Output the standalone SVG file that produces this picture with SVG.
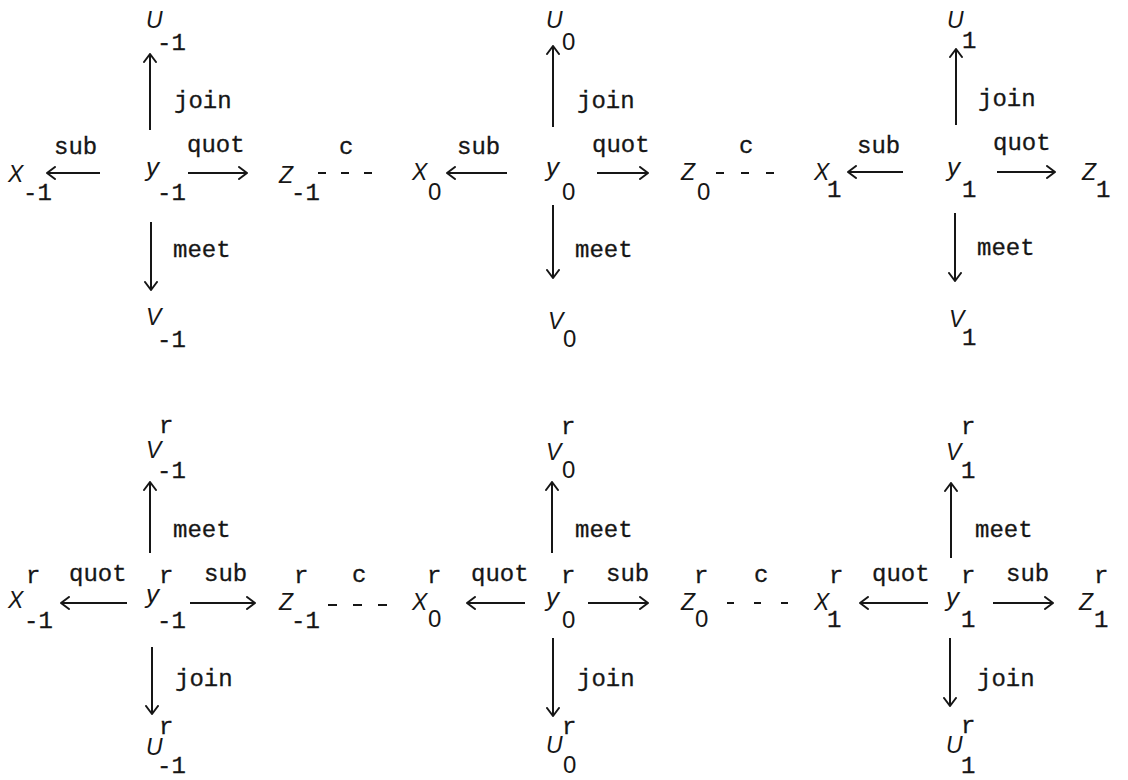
<svg xmlns="http://www.w3.org/2000/svg" width="1128" height="780" viewBox="0 0 1128 780">
  <style>
    .v { font-family: "Liberation Sans", "DejaVu Sans", sans-serif; font-style: italic; font-size: 23px; fill: #161616; }
    .y { font-size: 26px; }
    .t { font-family: "Liberation Mono", "DejaVu Sans Mono", monospace; font-size: 24px; fill: #161616; stroke: #161616; stroke-width: 0.3; }
    .o { font-family: "Liberation Sans", "DejaVu Sans", sans-serif; font-size: 24px; fill: #161616; }
    .arr { stroke: #161616; stroke-width: 2; fill: none; marker-end: url(#head); }
    .dash { stroke: #161616; stroke-width: 2; fill: none; }
  </style>
  <defs>
    <marker id="head" markerUnits="userSpaceOnUse" viewBox="0 0 10 14" markerWidth="10" markerHeight="14" refX="9" refY="7" orient="auto">
      <path d="M1,1 L9,7 L1,13" fill="none" stroke="#161616" stroke-width="2" stroke-linecap="round" stroke-linejoin="round"/>
    </marker>
  </defs>
  <rect width="1128" height="780" fill="#ffffff"/>

  <!-- upper lattice: sub / quot / join / meet -->
  <g id="upper-nodes">
    <g id="u-m1"><text class="v" x="146" y="28">U</text><text class="t" x="157" y="50">-1</text></g>
    <g id="x-m1"><text class="v" x="8" y="182">X</text><text class="t" x="23" y="200">-1</text></g>
    <g id="y-m1"><text class="v y" x="146" y="176">y</text><text class="t" x="157" y="200">-1</text></g>
    <g id="z-m1"><text class="v" x="279" y="183">Z</text><text class="t" x="291" y="200">-1</text></g>
    <g id="v-m1"><text class="v" x="146" y="325">V</text><text class="t" x="157" y="347">-1</text></g>

    <g id="u-0"><text class="v" x="546" y="28">U</text><text class="o" x="562" y="50">0</text></g>
    <g id="x-0"><text class="v" x="412" y="180">X</text><text class="o" x="428" y="200">0</text></g>
    <g id="y-0"><text class="v y" x="546" y="176">y</text><text class="o" x="562" y="200">0</text></g>
    <g id="z-0"><text class="v" x="681" y="180">Z</text><text class="o" x="697" y="200">0</text></g>
    <g id="v-0"><text class="v" x="548" y="329">V</text><text class="o" x="563" y="347">0</text></g>

    <g id="u-1"><text class="v" x="947" y="28">U</text><text class="t" x="962" y="48">1</text></g>
    <g id="x-1"><text class="v" x="814" y="180">X</text><text class="t" x="827" y="197">1</text></g>
    <g id="y-1"><text class="v y" x="947" y="176">y</text><text class="t" x="962" y="197">1</text></g>
    <g id="z-1"><text class="v" x="1082" y="180">Z</text><text class="t" x="1096" y="197">1</text></g>
    <g id="v-1"><text class="v" x="949" y="327">V</text><text class="t" x="962" y="345">1</text></g>
  </g>

  <!-- reversed lattice: quot / sub / meet / join -->
  <g id="lower-nodes">
    <g id="vr-m1"><text class="t" x="159" y="433">r</text><text class="v" x="146" y="458">V</text><text class="t" x="157" y="478">-1</text></g>
    <g id="xr-m1"><text class="t" x="26" y="583">r</text><text class="v" x="8" y="608">X</text><text class="t" x="24" y="628">-1</text></g>
    <g id="yr-m1"><text class="t" x="159" y="583">r</text><text class="v y" x="146" y="603">y</text><text class="t" x="157" y="628">-1</text></g>
    <g id="zr-m1"><text class="t" x="294" y="583">r</text><text class="v" x="279" y="610">Z</text><text class="t" x="291" y="628">-1</text></g>
    <g id="ur-m1"><text class="t" x="159" y="734">r</text><text class="v" x="146" y="755">U</text><text class="t" x="157" y="773">-1</text></g>

    <g id="vr-0"><text class="t" x="561" y="434">r</text><text class="v" x="546" y="460">V</text><text class="o" x="562" y="478">0</text></g>
    <g id="xr-0"><text class="t" x="427" y="583">r</text><text class="v" x="412" y="610">X</text><text class="o" x="428" y="627">0</text></g>
    <g id="yr-0"><text class="t" x="561" y="583">r</text><text class="v y" x="546" y="606">y</text><text class="o" x="562" y="628">0</text></g>
    <g id="zr-0"><text class="t" x="694" y="583">r</text><text class="v" x="681" y="610">Z</text><text class="o" x="695" y="627">0</text></g>
    <g id="ur-0"><text class="t" x="562" y="734">r</text><text class="v" x="546" y="753">U</text><text class="o" x="563" y="773">0</text></g>

    <g id="vr-1"><text class="t" x="961" y="434">r</text><text class="v" x="946" y="460">V</text><text class="t" x="961" y="478">1</text></g>
    <g id="xr-1"><text class="t" x="829" y="583">r</text><text class="v" x="814" y="610">X</text><text class="t" x="827" y="627">1</text></g>
    <g id="yr-1"><text class="t" x="961" y="583">r</text><text class="v y" x="946" y="606">y</text><text class="t" x="961" y="627">1</text></g>
    <g id="zr-1"><text class="t" x="1094" y="583">r</text><text class="v" x="1079" y="610">Z</text><text class="t" x="1094" y="627">1</text></g>
    <g id="ur-1"><text class="t" x="961" y="733">r</text><text class="v" x="946" y="753">U</text><text class="t" x="961" y="773">1</text></g>
  </g>

  <g id="connectors">
    <!-- upper row, horizontal -->
    <line class="arr" x1="100" y1="173" x2="47" y2="173"/>
    <text class="t" x="54" y="154">sub</text>
    <line class="arr" x1="188" y1="173" x2="247" y2="173"/>
    <text class="t" x="187" y="152">quot</text>
    <line class="dash" x1="318" y1="173" x2="373" y2="173" stroke-dasharray="8 15"/>
    <text class="t" x="339" y="154">c</text>
    <line class="arr" x1="507" y1="173" x2="447" y2="173"/>
    <text class="t" x="457" y="154">sub</text>
    <line class="arr" x1="597" y1="173" x2="648" y2="173"/>
    <text class="t" x="592" y="152">quot</text>
    <line class="dash" x1="716" y1="173" x2="775" y2="173" stroke-dasharray="8 17"/>
    <text class="t" x="739" y="153">c</text>
    <line class="arr" x1="903" y1="172" x2="848" y2="172"/>
    <text class="t" x="857" y="153">sub</text>
    <line class="arr" x1="997" y1="172" x2="1055" y2="172"/>
    <text class="t" x="993" y="150">quot</text>

    <!-- upper row, vertical -->
    <line class="arr" x1="150" y1="130" x2="150" y2="54"/>
    <text class="t" x="174" y="108">join</text>
    <line class="arr" x1="151" y1="222" x2="151" y2="290"/>
    <text class="t" x="173" y="257">meet</text>
    <line class="arr" x1="553" y1="127" x2="553" y2="46"/>
    <text class="t" x="577" y="108">join</text>
    <line class="arr" x1="553" y1="205" x2="553" y2="278"/>
    <text class="t" x="575" y="257">meet</text>
    <line class="arr" x1="956" y1="125" x2="956" y2="49"/>
    <text class="t" x="978" y="106">join</text>
    <line class="arr" x1="955" y1="213" x2="955" y2="281"/>
    <text class="t" x="977" y="255">meet</text>

    <!-- lower row, horizontal -->
    <line class="arr" x1="127" y1="603" x2="61" y2="603"/>
    <text class="t" x="69" y="581">quot</text>
    <line class="arr" x1="190" y1="603" x2="255" y2="603"/>
    <text class="t" x="204" y="581">sub</text>
    <line class="dash" x1="328" y1="605" x2="388" y2="605" stroke-dasharray="9 16"/>
    <text class="t" x="352" y="582">c</text>
    <line class="arr" x1="525" y1="603" x2="467" y2="603"/>
    <text class="t" x="471" y="581">quot</text>
    <line class="arr" x1="588" y1="603" x2="648" y2="603"/>
    <text class="t" x="606" y="581">sub</text>
    <line class="dash" x1="727" y1="603" x2="788" y2="603" stroke-dasharray="7 20"/>
    <text class="t" x="754" y="582">c</text>
    <line class="arr" x1="928" y1="603" x2="860" y2="603"/>
    <text class="t" x="872" y="581">quot</text>
    <line class="arr" x1="993" y1="603" x2="1053" y2="603"/>
    <text class="t" x="1006" y="581">sub</text>

    <!-- lower row, vertical -->
    <line class="arr" x1="150" y1="553" x2="150" y2="482"/>
    <text class="t" x="173" y="537">meet</text>
    <line class="arr" x1="152" y1="647" x2="152" y2="714"/>
    <text class="t" x="175" y="686">join</text>
    <line class="arr" x1="552" y1="553" x2="552" y2="482"/>
    <text class="t" x="575" y="537">meet</text>
    <line class="arr" x1="553" y1="638" x2="553" y2="716"/>
    <text class="t" x="577" y="686">join</text>
    <line class="arr" x1="951" y1="558" x2="951" y2="483"/>
    <text class="t" x="975" y="537">meet</text>
    <line class="arr" x1="950" y1="638" x2="950" y2="706"/>
    <text class="t" x="977" y="686">join</text>
  </g>
</svg>
